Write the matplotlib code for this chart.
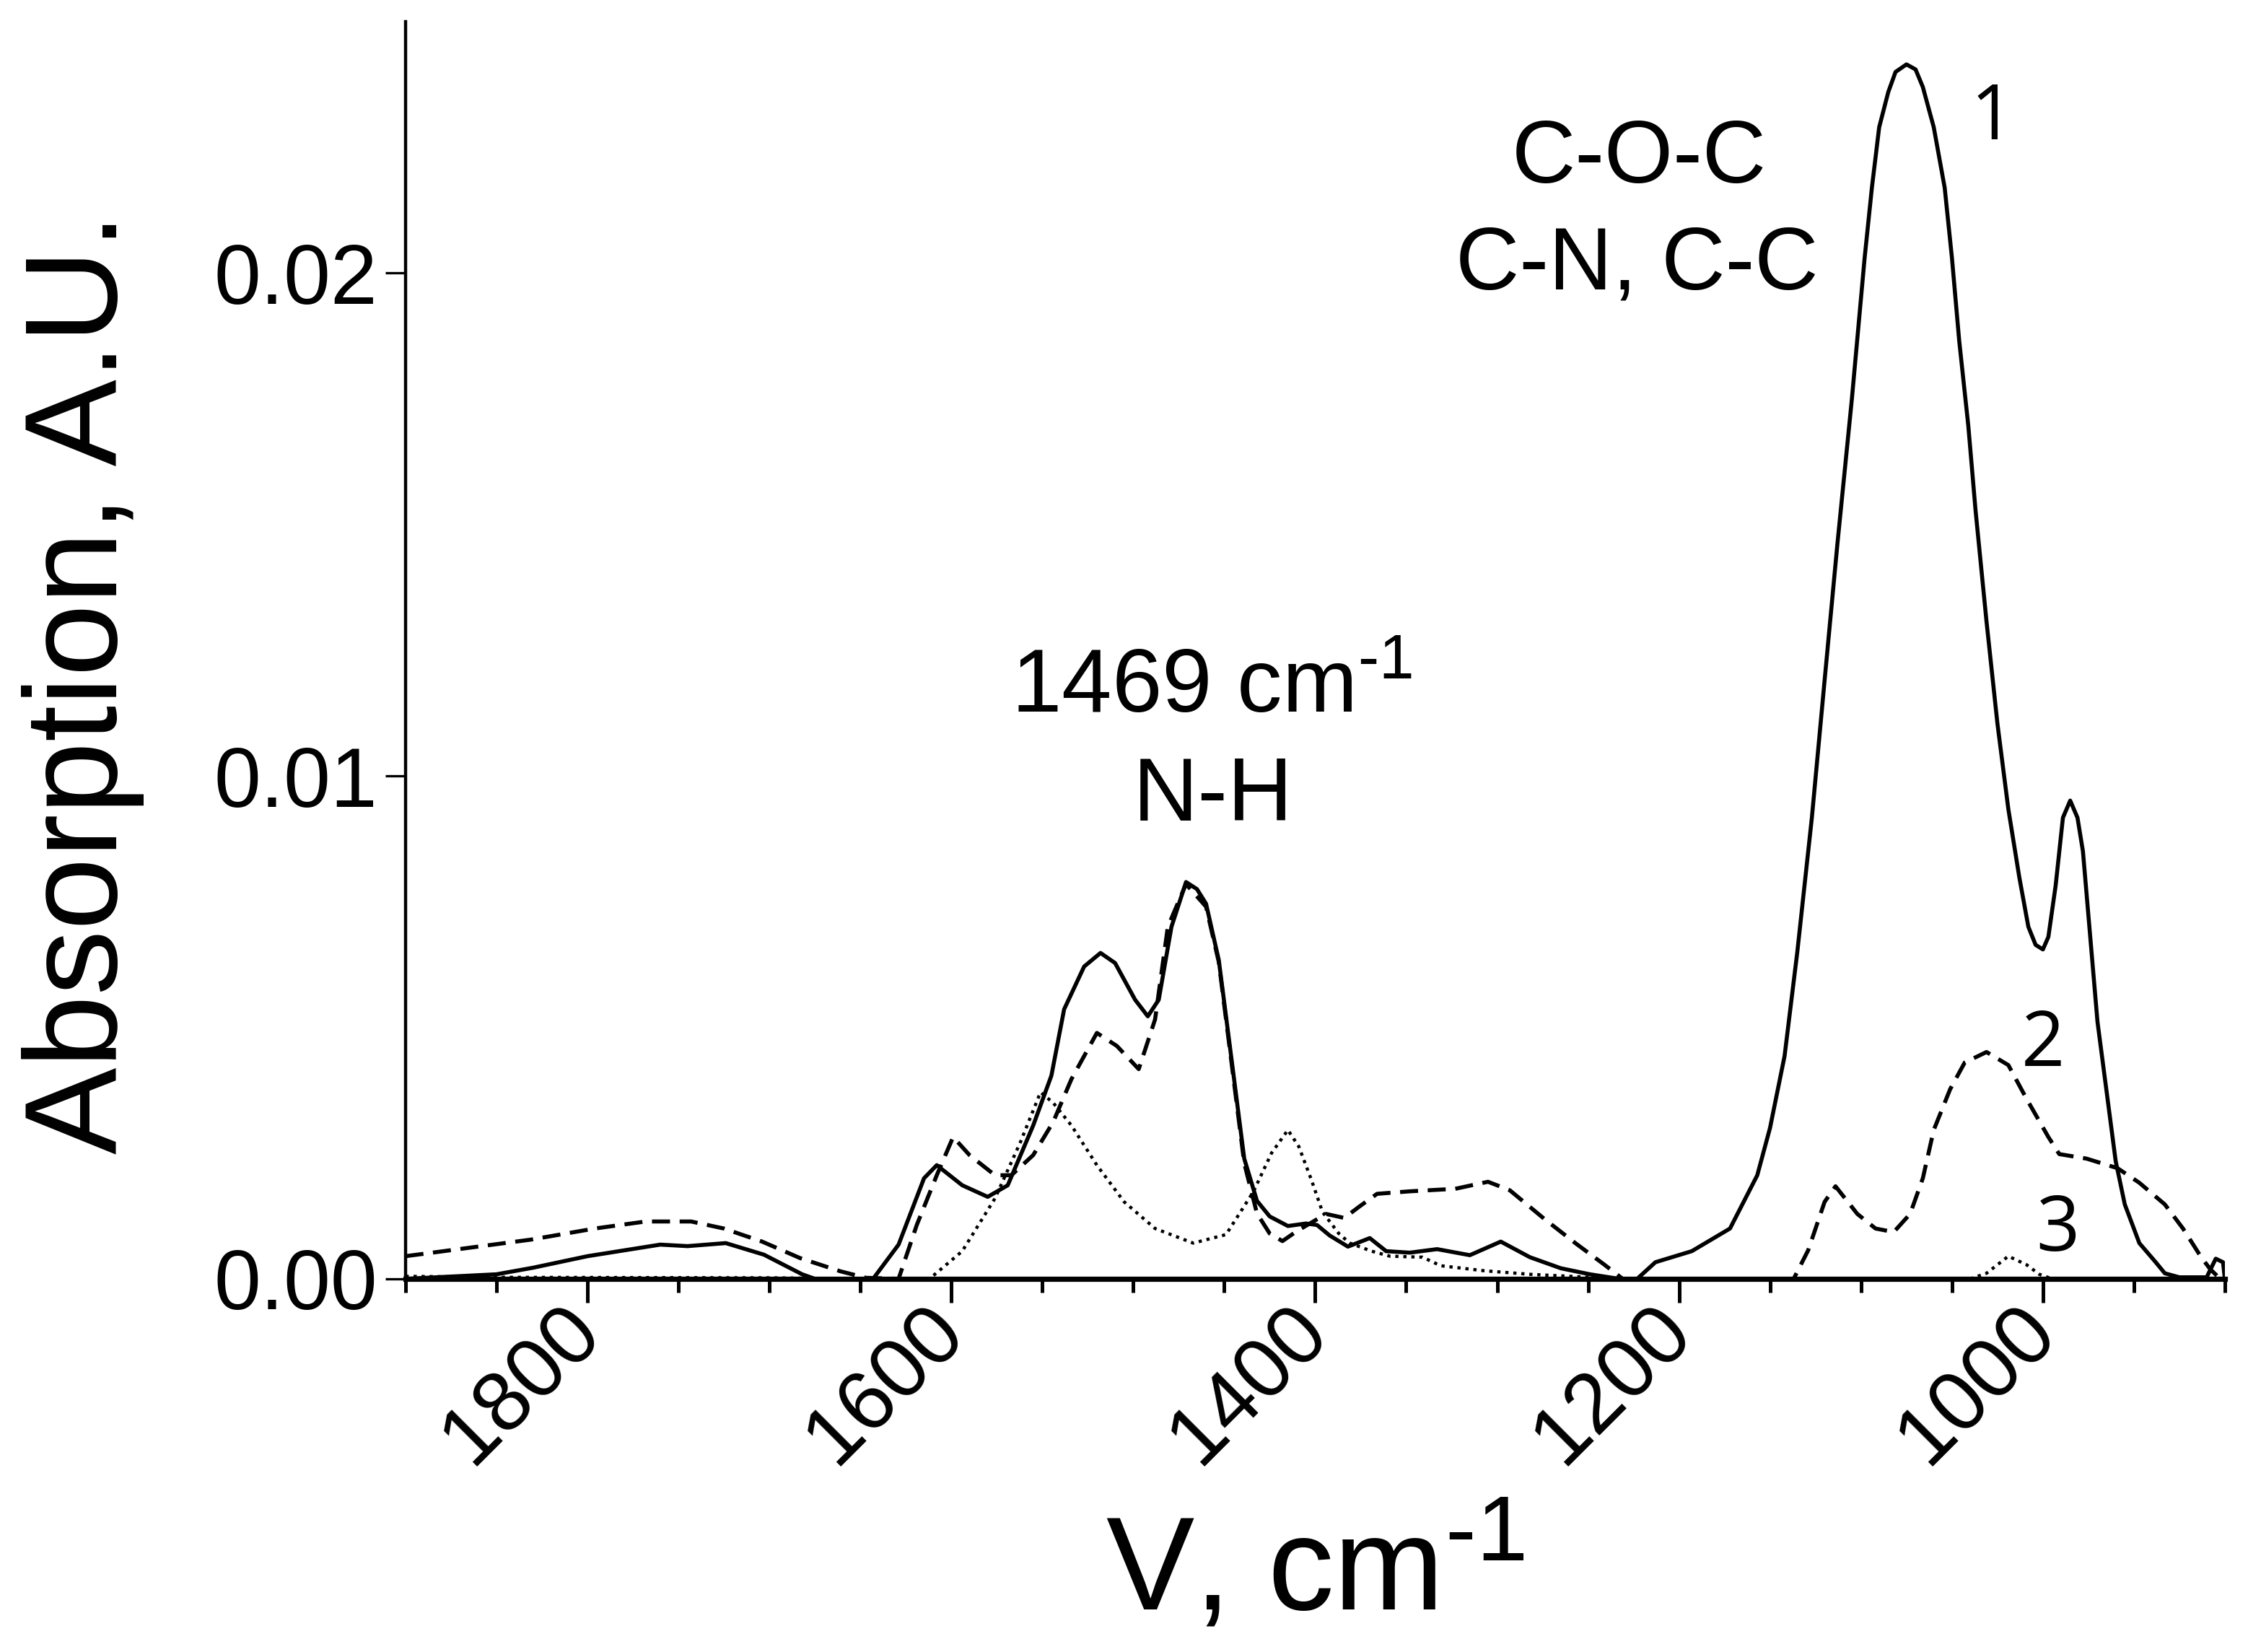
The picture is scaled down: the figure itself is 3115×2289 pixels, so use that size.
import matplotlib
matplotlib.use("Agg")
import matplotlib.pyplot as plt
from matplotlib.ticker import MultipleLocator

plt.rcParams["font.family"] = ["Liberation Sans", "DejaVu Sans"]
plt.rcParams["mathtext.fontset"] = "custom"
plt.rcParams["mathtext.rm"] = "Liberation Sans"
plt.rcParams["mathtext.it"] = "Liberation Sans:italic"
plt.rcParams["mathtext.bf"] = "Liberation Sans:bold"

# spectrum 1 (solid)
wn1 = [1900, 1850, 1830, 1800, 1760, 1745, 1724, 1703, 1682, 1675, 1643, 1629,
       1615, 1608, 1594, 1580, 1569, 1555, 1545, 1538, 1527, 1518, 1510, 1499,
       1492, 1486, 1479, 1471, 1465, 1460, 1453, 1446, 1439, 1432, 1425, 1415,
       1405, 1399, 1392, 1382, 1370, 1361, 1348, 1333, 1315, 1298, 1282, 1265,
       1249, 1233, 1223, 1213, 1193, 1172, 1157, 1150, 1142, 1135, 1127, 1120,
       1113, 1105, 1098, 1094, 1090, 1085, 1081, 1075, 1070, 1066, 1060, 1054,
       1050, 1046, 1041, 1037, 1031, 1025, 1019, 1013, 1008, 1004, 1000, 997,
       993, 989, 985, 981, 978, 970, 960, 955, 947, 938, 933, 925, 910, 905,
       901, 900]
abs1 = [0.00, 0.09, 0.22, 0.45, 0.68, 0.65, 0.71, 0.48, 0.09, 0.0, 0.0, 0.68,
        2.0, 2.26, 1.86, 1.63, 1.86, 3.05, 4.04, 5.36, 6.21, 6.48, 6.28, 5.55,
        5.22, 5.55, 7.0, 7.89, 7.75, 7.46, 6.34, 4.37, 2.39, 1.55, 1.24, 1.05,
        1.1, 1.07, 0.86, 0.64, 0.81, 0.55, 0.52, 0.59, 0.47, 0.74, 0.43, 0.21,
        0.09, 0.0, 0.0, 0.33, 0.55, 1.0, 2.06, 3.0, 4.43, 6.5, 9.17, 11.9,
        14.6, 17.5, 20.3, 21.7, 22.9, 23.6, 24.0, 24.15, 24.05, 23.7, 22.9, 21.7,
        20.3, 18.65, 16.96, 15.27, 13.07, 11.04, 9.34, 7.99, 7.0, 6.64, 6.55, 6.8,
        7.82, 9.17, 9.51, 9.17, 8.5, 5.11, 2.34, 1.48, 0.71, 0.33, 0.11, 0.03, 0.03, 0.4,
        0.33, 0.0]

# spectrum 2 (dashed)
wn2 = [1900, 1831, 1796, 1768, 1743, 1725, 1704, 1683, 1661, 1647, 1629, 1619,
       1608, 1599, 1590, 1576, 1567, 1555, 1544, 1534, 1520, 1509, 1497, 1488,
       1481, 1471, 1460, 1453, 1446, 1439, 1432, 1425, 1418, 1410, 1394, 1384,
       1376, 1366, 1348, 1323, 1305, 1293, 1274, 1257, 1241, 1231, 1137, 1129,
       1120, 1114, 1102, 1092, 1082, 1073, 1066, 1060, 1051, 1043, 1031, 1019,
       1009, 997, 991, 976, 959, 947, 933, 923, 913, 908, 904, 900]
abs2 = [0.45, 0.78, 1.0, 1.14, 1.14, 1.0, 0.74, 0.41, 0.15, 0.02, 0.0, 1.07,
        2.06, 2.82, 2.46, 2.06, 2.06, 2.46, 3.12, 3.97, 4.89, 4.63, 4.17, 5.16,
        7.0, 7.85, 7.4, 6.3, 4.3, 2.3, 1.3, 0.9, 0.75, 0.95, 1.29, 1.21,
        1.43, 1.69, 1.74, 1.79, 1.93, 1.76, 1.19, 0.71, 0.28, 0.0, 0.0, 0.57,
        1.53, 1.84, 1.29, 1.0, 0.93, 1.29, 2.0, 2.96, 3.77, 4.3, 4.51, 4.25,
        3.58, 2.82, 2.48, 2.39, 2.2, 1.91, 1.48, 1.0, 0.43, 0.19, 0.05, 0.0]

# spectrum 3 (dotted)
wn3 = [1900, 1850, 1700, 1650, 1612, 1594, 1576, 1562, 1551, 1544, 1534, 1520,
       1505, 1488, 1467, 1449, 1434, 1424, 1415, 1409, 1402, 1396, 1387, 1381,
       1369, 1359, 1341, 1331, 1307, 1282, 1249, 1230, 1040, 1031, 1019, 1009,
       1002, 995, 900]
abs3 = [0.05, 0.03, 0.02, 0.0, 0.0, 0.55, 1.6, 2.72, 3.71, 3.5, 3.05, 2.26,
        1.53, 1.0, 0.71, 0.88, 1.73, 2.5, 2.96, 2.63, 1.96, 1.33, 0.9, 0.71,
        0.55, 0.45, 0.43, 0.26, 0.16, 0.09, 0.03, 0.0, 0.0, 0.11, 0.45, 0.28,
        0.09, 0.0, 0.0]

y_ticks = [0.00, 0.01, 0.02]
y_ticklabels = ["0.00", "0.01", "0.02"]
x_ticks = [1800, 1600, 1400, 1200, 1000]

fig = plt.figure(figsize=(15.575, 11.445), dpi=200)
ax = fig.add_axes([0.1804, 0.2259, 0.8093, 0.7610])

scale = 0.001
ax.plot(wn1, [v * scale for v in abs1], color="black", lw=2.0)
ax.plot(wn2, [v * scale for v in abs2], color="black", lw=2.0, dashes=(4.5, 2.4))
ax.plot(wn3, [v * scale for v in abs3], color="black", lw=1.6, dashes=(1, 1.5))

ax.set_xlim(1900, 900)
ax.set_ylim(0, 0.025)

ax.spines["top"].set_visible(False)
ax.spines["right"].set_visible(False)
ax.spines["left"].set_linewidth(1.6)
ax.spines["bottom"].set_linewidth(2.6)

ax.set_yticks(y_ticks)
ax.set_yticklabels(y_ticklabels)
ax.set_xticks(x_ticks)
ax.set_xticklabels([str(t) for t in x_ticks], rotation=45, ha="right",
                   va="center", rotation_mode="anchor")
ax.xaxis.set_minor_locator(MultipleLocator(50))
ax.tick_params(axis="y", direction="out", length=10, width=1.2, labelsize=42, pad=4)
ax.tick_params(axis="x", which="major", direction="out", length=12, width=1.8,
               labelsize=42, pad=8)
ax.tick_params(axis="x", which="minor", direction="out", length=7, width=1.8)

ax.set_ylabel("Absorption, A.U.", fontsize=65)
ax.yaxis.label.set_va("baseline")
ax.yaxis.set_label_coords(-0.1587, 0.474)
ax.set_xlabel(r"V, cm$^{\text{-1}}$", fontsize=66)
ax.xaxis.label.set_va("baseline")
ax.xaxis.set_label_coords(0.5, -0.263)

ax.text(1457, 0.01126, r"1469 cm$^{\text{-1}}$", fontsize=45, ha="center", va="baseline")
ax.text(1456, 0.00911, "N-H", fontsize=45, ha="center", va="baseline")
ax.text(1222, 0.0218, "C-O-C", fontsize=44, ha="center", va="baseline")
ax.text(1223, 0.01968, "C-N, C-C", fontsize=44, ha="center", va="baseline")

num_font = ["Open Sans", "DejaVu Sans"]
ax.text(1028, 0.02306, "1", fontsize=38, ha="center", va="center", family=num_font)
ax.text(1000, 0.00463, "2", fontsize=38, ha="center", va="center", family=num_font)
ax.text(992, 0.00096, "3", fontsize=38, ha="center", va="center", family=num_font)

fig.savefig("out.png", dpi=200)
